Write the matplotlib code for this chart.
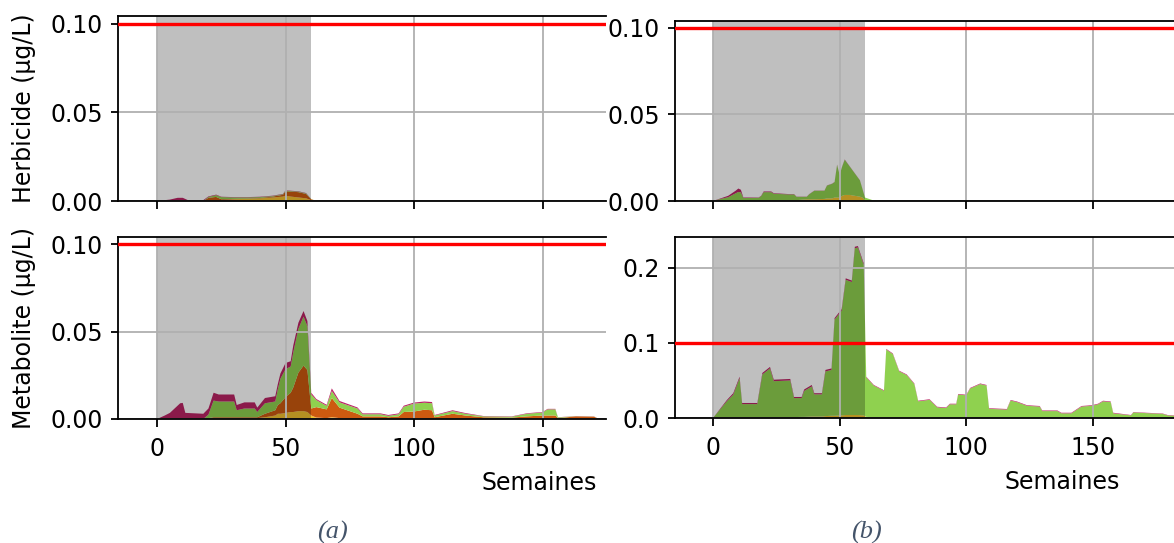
import matplotlib
matplotlib.use("Agg")
import matplotlib.pyplot as plt

# ---- data (weeks, µg/L) ----------------------------------------------------
# (a) herbicide
wk_a_herb = [0, 5, 8, 10, 12, 18, 20, 23, 25, 30, 35, 40, 45, 49, 50, 52, 55, 58, 60, 62, 180]
gold_a_herb = [0, 0, 0, 0, 0, 0, 0.0003, 0.0003, 0.0005, 0.001, 0.0012, 0.0015, 0.002, 0.0025,
               0.003, 0.0025, 0.002, 0.0015, 0.0005, 0, 0]
orange_a_herb = [0, 0, 0.0003, 0.0003, 0, 0, 0.0015, 0.002, 0.0005, 0.0002, 0.0002, 0.0002, 0.0005,
                 0.001, 0.0025, 0.0028, 0.003, 0.0025, 0.0005, 0, 0]
lgreen_a_herb = [0, 0, 0, 0, 0, 0, 0.0005, 0.001, 0.0012, 0.0008, 0.0006, 0.0005, 0.0003, 0.0003,
                 0.0003, 0.0003, 0.0003, 0.0003, 0.0001, 0, 0]
maroon_a_herb = [0, 0.0008, 0.0015, 0.0015, 0.0005, 0.0005, 0.0003, 0.0003, 0.0002, 0.0002, 0.0002,
                 0.0002, 0.0002, 0.0002, 0.0002, 0.0002, 0.0002, 0.0002, 0, 0, 0]

# (a) metabolite
wk_a_met = [0, 3, 5, 9, 10, 11, 18, 20, 22, 24, 30, 31, 34, 38, 39, 42, 46, 47, 48, 50,
            52, 53, 55, 57, 58.5, 60, 62, 66, 68, 71, 78, 80, 87, 90, 94, 96, 100, 104, 107, 108,
            115, 120, 127, 138, 144, 150, 152, 155, 156, 163, 170, 172, 180]
gold_a_met = [0, 0, 0, 0, 0, 0, 0, 0, 0, 0, 0, 0, 0, 0, 0.0005, 0.001, 0.002, 0.003, 0.003, 0.0035,
              0.004, 0.004, 0.0045, 0.0045, 0.004, 0.002, 0.0008, 0.0005, 0.001, 0.0005,
              0, 0, 0, 0, 0, 0, 0.0003, 0.0003, 0, 0,
              0, 0, 0, 0, 0, 0, 0, 0, 0, 0, 0, 0, 0]
orange_a_met = [0, 0, 0, 0, 0, 0, 0, 0.0005, 0.001, 0.001, 0.001, 0.001, 0.001, 0.001, 0.0005, 0.002,
                0.003, 0.005, 0.006, 0.009, 0.011, 0.014, 0.022, 0.026, 0.024, 0.004, 0.006, 0.005,
                0.011, 0.006, 0.003, 0.0015, 0.0015, 0.001, 0.0015, 0.004, 0.004, 0.005, 0.005,
                0.001, 0.003, 0.002, 0.001, 0.0008, 0.0015, 0.002, 0.002, 0.002, 0.0005, 0.0015,
                0.0013, 0, 0]
lgreen_a_met = [0, 0, 0, 0, 0, 0, 0, 0.002, 0.0095, 0.009, 0.009, 0.004, 0.005, 0.005, 0.003, 0.006,
                0.005, 0.009, 0.014, 0.016, 0.015, 0.02, 0.025, 0.028, 0.025, 0.008, 0.004, 0.002,
                0.004, 0.003, 0.003, 0.0012, 0.0012, 0.0008, 0.0012, 0.003, 0.0045, 0.004, 0.004,
                0.001, 0.0015, 0.001, 0.0005, 0.0005, 0.0015, 0.0017, 0.0035, 0.0035, 0.0004,
                0.0001, 0.0001, 0, 0]
maroon_a_met = [0, 0.002, 0.0035, 0.009, 0.0092, 0.0035, 0.003, 0.0035, 0.0045, 0.004, 0.004, 0.003,
                0.0035, 0.0035, 0.0025, 0.003, 0.003, 0.003, 0.003, 0.0035, 0.003, 0.004, 0.0035,
                0.0032, 0.003, 0.001, 0.0006, 0.0006, 0.0015, 0.0008, 0.0006, 0.0005, 0.0005,
                0.0005, 0.0005, 0.0006, 0.0006, 0.0007, 0.0007, 0.0003, 0.0005, 0.0004, 0.0002,
                0.0002, 0.0003, 0.0003, 0.0003, 0.0003, 0.0001, 0.0001, 0.0001, 0, 0]

# (b) herbicide
wk_b_herb = [0, 3, 6, 9, 10, 11, 12, 18, 19, 20, 23, 24, 30, 32, 33, 37, 38, 40, 44, 45,
             47, 48, 49, 50, 51, 52, 54, 56, 58, 59, 60, 63, 66, 185]
gold_b_herb = [0, 0, 0, 0, 0, 0, 0, 0, 0, 0, 0, 0, 0.0003, 0.0005, 0.0005, 0.001, 0.001, 0.001,
               0.0012, 0.0015, 0.0015, 0.002, 0.002, 0.002, 0.003, 0.0035, 0.0035, 0.003, 0.0025,
               0.002, 0.0005, 0, 0, 0]
lgreen_b_herb = [0, 0.0012, 0.0022, 0.0045, 0.0052, 0.005, 0.0017, 0.0018, 0.0028, 0.0051, 0.0051,
                 0.0042, 0.0035, 0.0033, 0.0019, 0.0014, 0.0029, 0.0049, 0.0047, 0.0074, 0.0084,
                 0.0089, 0.0188, 0.0129, 0.0169, 0.0203, 0.0164, 0.0129, 0.0094, 0.0049, 0.0015,
                 0.0005, 0, 0]
maroon_b_herb = [0, 0.0003, 0.0008, 0.0015, 0.002, 0.0015, 0.0003, 0.0002, 0.0002, 0.0004, 0.0004,
                 0.0003, 0.0002, 0.0002, 0.0001, 0.0001, 0.0001, 0.0001, 0.0001, 0.0001, 0.0001,
                 0.0001, 0.0002, 0.0001, 0.0001, 0.0002, 0.0001, 0.0001, 0.0001, 0.0001, 0, 0, 0, 0]

# (b) metabolite
wk_b_met = [0, 5.5, 8, 10.5, 11.5, 17.5, 19.5, 22.5, 24, 30.5, 32, 35, 36, 39, 40, 43, 44.4, 46.8,
            48, 50.8, 52.4, 54.8, 56, 57.2, 59.5, 60.5, 63.5, 67.5, 68.4, 71, 73.5, 76.5, 79.5, 81,
            85.5, 88.5, 92, 93.5, 96, 96.8, 100, 101.5, 105.5, 108, 109, 116, 117.5, 120, 124, 129,
            130, 136, 137.5, 141.5, 145.5, 149.5, 152, 154, 157, 158, 165, 166, 171, 177.5, 179.5,
            185]
gold_b_met = [0, 0, 0, 0, 0, 0, 0.001, 0.001, 0.001, 0.0012, 0.0012, 0.0015, 0.0015, 0.002, 0.002,
              0.002, 0.0025, 0.003, 0.003, 0.0035, 0.004, 0.004, 0.004, 0.004, 0.0035, 0.0015, 0.001,
              0.001, 0.001, 0.001, 0.0008, 0.0008, 0.0006, 0.0005, 0.0005, 0.0003,
              0, 0, 0, 0, 0, 0, 0, 0, 0, 0, 0, 0, 0, 0, 0, 0, 0, 0, 0, 0, 0, 0, 0, 0, 0, 0, 0, 0, 0, 0]
lgreen_b_met = [0, 0.0225, 0.031, 0.053, 0.0185, 0.0185, 0.057, 0.065, 0.048, 0.0488, 0.0253, 0.025,
                0.0345, 0.04, 0.0295, 0.0295, 0.0595, 0.061, 0.128, 0.1395, 0.18, 0.177, 0.222,
                0.223, 0.2005, 0.0527, 0.0422, 0.0352, 0.0902, 0.0842, 0.0614, 0.0564, 0.0446,
                0.0217, 0.0237, 0.0139, 0.0132, 0.0182, 0.0182, 0.0312, 0.0302, 0.0392, 0.0452,
                0.0432, 0.0122, 0.0112, 0.0232, 0.0212, 0.0162, 0.0152, 0.0092, 0.0092, 0.0062,
                0.0062, 0.0152, 0.0162, 0.0182, 0.0222, 0.0212, 0.0062, 0.0035, 0.0075, 0.0065,
                0.0055, 0.0035, 0.0025]
maroon_b_met = [0, 0.0015, 0.002, 0.002, 0.0015, 0.0015, 0.002, 0.002, 0.002, 0.002, 0.0015, 0.0015,
                0.002, 0.002, 0.0015, 0.0015, 0.002, 0.002, 0.002, 0.002, 0.002, 0.002, 0.002,
                0.002, 0.002, 0.0008,
                0.0008, 0.0008, 0.0008, 0.0008, 0.0008, 0.0008, 0.0008, 0.0008, 0.0008, 0.0008,
                0.0008, 0.0008, 0.0008, 0.0008, 0.0008, 0.0008, 0.0008, 0.0008, 0.0008, 0.0008,
                0.0008, 0.0008, 0.0008, 0.0008, 0.0008, 0.0008, 0.0008, 0.0008, 0.0008, 0.0008,
                0.0008, 0.0008, 0.0008, 0.0008,
                0.0005, 0.0005, 0.0005, 0.0005, 0.0005, 0.0005]

threshold = 0.1          # µg/L
period = (0, 60)         # shaded weeks

GOLD, ORANGE, LGREEN, MAROON = "#f2c12e", "#cc5a10", "#8fd14f", "#ba2364"

plt.rcParams.update({
    "font.size": 17,
    "axes.linewidth": 1.3,
    "xtick.major.size": 5.4, "ytick.major.size": 5.4,
    "xtick.major.width": 1.3, "ytick.major.width": 1.3,
    "xtick.major.pad": 7.5, "ytick.major.pad": 5.6,
})

W, H = 1174, 543
fig = plt.figure(figsize=(W / 100, H / 100), dpi=100)


def px_axes(left, top, right, bottom):
    return fig.add_axes([left / W, 1 - bottom / H, (right - left) / W, (bottom - top) / H])


def draw(ax, weeks, layers, colors, xlim, ylim, yticks, ylabels, show_x):
    ax.stackplot(weeks, *layers, colors=colors, linewidth=0, zorder=1)
    # shading sits under the grid (1.5) but over the stacked areas
    ax.axvspan(*period, color="k", alpha=0.25, lw=0, zorder=1.4)
    ax.axhline(threshold, color="red", lw=2.4, zorder=3)
    ax.grid(True, color="#b0b0b0", lw=1.3)
    ax.set_xlim(*xlim)
    ax.set_ylim(*ylim)
    ax.set_xticks([0, 50, 100, 150])
    ax.set_yticks(yticks)
    ax.set_yticklabels(ylabels)
    if not show_x:
        ax.set_xticklabels([])
    ax.spines["right"].set_visible(False)


xlim_a = (-15.2, 174.7)
xlim_b = (-15.0, 182.0)

ax_a1 = px_axes(118, 16, 606, 201)
draw(ax_a1, wk_a_herb, [gold_a_herb, orange_a_herb, lgreen_a_herb, maroon_a_herb],
     [GOLD, ORANGE, LGREEN, MAROON], xlim_a, (0, 0.1045),
     [0, 0.05, 0.1], ["0.00", "0.05", "0.10"], False)
ax_a1.set_ylabel("Herbicide (µg/L)")
ax_a1.yaxis.set_label_coords(-0.168, 0.5)

ax_a2 = px_axes(118, 237, 606, 419)
draw(ax_a2, wk_a_met, [gold_a_met, orange_a_met, lgreen_a_met, maroon_a_met],
     [GOLD, ORANGE, LGREEN, MAROON], xlim_a, (0, 0.104),
     [0, 0.05, 0.1], ["0.00", "0.05", "0.10"], True)
ax_a2.set_ylabel("Metabolite (µg/L)")
ax_a2.yaxis.set_label_coords(-0.168, 0.5)
ax_a2.set_xlabel("Semaines")
ax_a2.xaxis.set_label_coords(0.863, -0.285)

ax_b1 = px_axes(675, 21, 1174, 201)
draw(ax_b1, wk_b_herb, [gold_b_herb, lgreen_b_herb, maroon_b_herb],
     [GOLD, LGREEN, MAROON], xlim_b, (0, 0.104),
     [0, 0.05, 0.1], ["0.00", "0.05", "0.10"], False)

ax_b2 = px_axes(675, 237, 1174, 418)
draw(ax_b2, wk_b_met, [gold_b_met, lgreen_b_met, maroon_b_met],
     [GOLD, LGREEN, MAROON], xlim_b, (0, 0.241),
     [0, 0.1, 0.2], ["0.0", "0.1", "0.2"], True)
ax_b2.set_xlabel("Semaines")
ax_b2.xaxis.set_label_coords(0.776, -0.285)

cap = dict(family="Liberation Serif", style="italic", fontsize=19, color="#44546a",
           ha="center", va="center")
fig.text(332 / W, 1 - 532 / H, "(a)", **cap)
fig.text(866 / W, 1 - 532 / H, "(b)", **cap)

fig.savefig("out.png", dpi=100)
